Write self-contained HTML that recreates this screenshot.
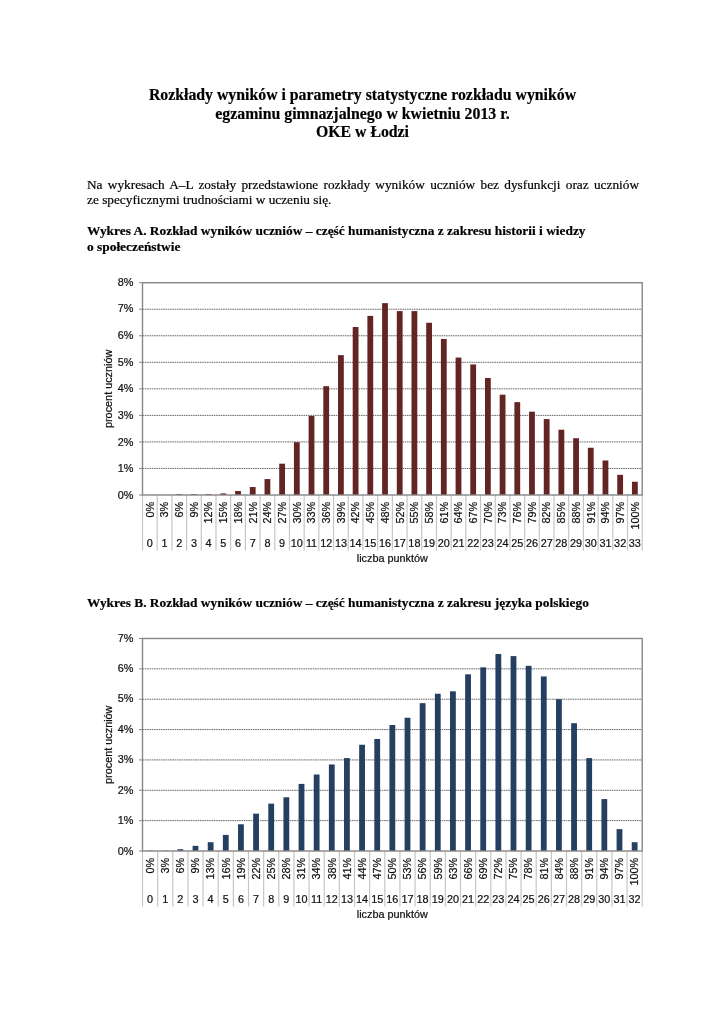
<!DOCTYPE html>
<html lang="pl"><head><meta charset="utf-8"><title>Rozkłady wyników</title>
<style>
html,body{margin:0;padding:0;background:#fff;}
body{width:725px;height:1024px;position:relative;overflow:hidden;}
.t{position:absolute;will-change:transform;-webkit-text-stroke:0.2px #000;font-family:"Liberation Serif",serif;color:#000;white-space:nowrap;}
.title{left:0;width:725px;text-align:center;font-weight:bold;font-size:15.8px;line-height:18px;}
.p{font-size:13.3px;line-height:14px;left:86.6px;}
.j{width:552px;text-align:justify;text-align-last:justify;}
.h{font-weight:bold;font-size:13.4px;line-height:14px;left:86.6px;}
svg{position:absolute;left:0;top:0;will-change:transform;}
.c{font-family:"Liberation Sans",sans-serif;font-size:10.85px;fill:#111;stroke:#111;stroke-width:0.22px;}
</style></head><body>
<div class="t title" style="top:86px">Rozkłady wyników i parametry statystyczne rozkładu wyników</div>
<div class="t title" style="top:104.5px">egzaminu gimnazjalnego w kwietniu 2013 r.</div>
<div class="t title" style="top:123px">OKE w Łodzi</div>
<div class="t p j" style="top:178px">Na wykresach A–L zostały przedstawione rozkłady wyników uczniów bez dysfunkcji oraz uczniów</div>
<div class="t p" style="top:193.4px">ze specyficznymi trudnościami w uczeniu się.</div>
<div class="t h" style="top:224px">Wykres A. Rozkład wyników uczniów – część humanistyczna z zakresu historii i wiedzy</div>
<div class="t h" style="top:239.6px">o społeczeństwie</div>
<div class="t h" style="top:596px">Wykres B. Rozkład wyników uczniów – część humanistyczna z zakresu języka polskiego</div>
<svg width="725" height="1024" viewBox="0 0 725 1024">
<line x1="142.5" y1="468.46" x2="642.2" y2="468.46" stroke="#6a6a6a" stroke-width="1" stroke-dasharray="1.6 0.7"/>
<line x1="142.5" y1="441.93" x2="642.2" y2="441.93" stroke="#6a6a6a" stroke-width="1" stroke-dasharray="1.6 0.7"/>
<line x1="142.5" y1="415.39" x2="642.2" y2="415.39" stroke="#6a6a6a" stroke-width="1" stroke-dasharray="1.6 0.7"/>
<line x1="142.5" y1="388.85" x2="642.2" y2="388.85" stroke="#6a6a6a" stroke-width="1" stroke-dasharray="1.6 0.7"/>
<line x1="142.5" y1="362.31" x2="642.2" y2="362.31" stroke="#6a6a6a" stroke-width="1" stroke-dasharray="1.6 0.7"/>
<line x1="142.5" y1="335.77" x2="642.2" y2="335.77" stroke="#6a6a6a" stroke-width="1" stroke-dasharray="1.6 0.7"/>
<line x1="142.5" y1="309.24" x2="642.2" y2="309.24" stroke="#6a6a6a" stroke-width="1" stroke-dasharray="1.6 0.7"/>
<rect x="176.34" y="494.20" width="5.8" height="0.80" fill="#632523"/>
<rect x="191.04" y="494.20" width="5.8" height="0.80" fill="#632523"/>
<rect x="205.74" y="494.20" width="5.8" height="0.80" fill="#632523"/>
<rect x="220.43" y="493.41" width="5.8" height="1.59" fill="#632523"/>
<rect x="235.13" y="491.02" width="5.8" height="3.98" fill="#632523"/>
<rect x="249.83" y="487.04" width="5.8" height="7.96" fill="#632523"/>
<rect x="264.53" y="479.08" width="5.8" height="15.92" fill="#632523"/>
<rect x="279.22" y="463.69" width="5.8" height="31.31" fill="#632523"/>
<rect x="293.92" y="442.19" width="5.8" height="52.81" fill="#632523"/>
<rect x="308.62" y="415.92" width="5.8" height="79.08" fill="#632523"/>
<rect x="323.31" y="386.20" width="5.8" height="108.80" fill="#632523"/>
<rect x="338.01" y="355.15" width="5.8" height="139.85" fill="#632523"/>
<rect x="352.71" y="327.02" width="5.8" height="167.98" fill="#632523"/>
<rect x="367.40" y="315.87" width="5.8" height="179.13" fill="#632523"/>
<rect x="382.10" y="303.13" width="5.8" height="191.87" fill="#632523"/>
<rect x="396.80" y="311.10" width="5.8" height="183.90" fill="#632523"/>
<rect x="411.50" y="311.10" width="5.8" height="183.90" fill="#632523"/>
<rect x="426.19" y="322.77" width="5.8" height="172.23" fill="#632523"/>
<rect x="440.89" y="338.96" width="5.8" height="156.04" fill="#632523"/>
<rect x="455.59" y="357.54" width="5.8" height="137.46" fill="#632523"/>
<rect x="470.28" y="364.44" width="5.8" height="130.56" fill="#632523"/>
<rect x="484.98" y="377.97" width="5.8" height="117.03" fill="#632523"/>
<rect x="499.68" y="394.69" width="5.8" height="100.31" fill="#632523"/>
<rect x="514.38" y="402.12" width="5.8" height="92.88" fill="#632523"/>
<rect x="529.07" y="411.67" width="5.8" height="83.33" fill="#632523"/>
<rect x="543.77" y="419.10" width="5.8" height="75.90" fill="#632523"/>
<rect x="558.47" y="429.72" width="5.8" height="65.28" fill="#632523"/>
<rect x="573.16" y="438.21" width="5.8" height="56.79" fill="#632523"/>
<rect x="587.86" y="447.76" width="5.8" height="47.24" fill="#632523"/>
<rect x="602.56" y="460.50" width="5.8" height="34.50" fill="#632523"/>
<rect x="617.25" y="474.83" width="5.8" height="20.17" fill="#632523"/>
<rect x="631.95" y="481.73" width="5.8" height="13.27" fill="#632523"/>
<line x1="142.50" y1="495.0" x2="142.50" y2="550.5" stroke="#c6c6c6" stroke-width="1.2"/>
<line x1="157.20" y1="495.0" x2="157.20" y2="550.5" stroke="#c6c6c6" stroke-width="1.2"/>
<line x1="171.89" y1="495.0" x2="171.89" y2="550.5" stroke="#c6c6c6" stroke-width="1.2"/>
<line x1="186.59" y1="495.0" x2="186.59" y2="550.5" stroke="#c6c6c6" stroke-width="1.2"/>
<line x1="201.29" y1="495.0" x2="201.29" y2="550.5" stroke="#c6c6c6" stroke-width="1.2"/>
<line x1="215.99" y1="495.0" x2="215.99" y2="550.5" stroke="#c6c6c6" stroke-width="1.2"/>
<line x1="230.68" y1="495.0" x2="230.68" y2="550.5" stroke="#c6c6c6" stroke-width="1.2"/>
<line x1="245.38" y1="495.0" x2="245.38" y2="550.5" stroke="#c6c6c6" stroke-width="1.2"/>
<line x1="260.08" y1="495.0" x2="260.08" y2="550.5" stroke="#c6c6c6" stroke-width="1.2"/>
<line x1="274.77" y1="495.0" x2="274.77" y2="550.5" stroke="#c6c6c6" stroke-width="1.2"/>
<line x1="289.47" y1="495.0" x2="289.47" y2="550.5" stroke="#c6c6c6" stroke-width="1.2"/>
<line x1="304.17" y1="495.0" x2="304.17" y2="550.5" stroke="#c6c6c6" stroke-width="1.2"/>
<line x1="318.86" y1="495.0" x2="318.86" y2="550.5" stroke="#c6c6c6" stroke-width="1.2"/>
<line x1="333.56" y1="495.0" x2="333.56" y2="550.5" stroke="#c6c6c6" stroke-width="1.2"/>
<line x1="348.26" y1="495.0" x2="348.26" y2="550.5" stroke="#c6c6c6" stroke-width="1.2"/>
<line x1="362.96" y1="495.0" x2="362.96" y2="550.5" stroke="#c6c6c6" stroke-width="1.2"/>
<line x1="377.65" y1="495.0" x2="377.65" y2="550.5" stroke="#c6c6c6" stroke-width="1.2"/>
<line x1="392.35" y1="495.0" x2="392.35" y2="550.5" stroke="#c6c6c6" stroke-width="1.2"/>
<line x1="407.05" y1="495.0" x2="407.05" y2="550.5" stroke="#c6c6c6" stroke-width="1.2"/>
<line x1="421.74" y1="495.0" x2="421.74" y2="550.5" stroke="#c6c6c6" stroke-width="1.2"/>
<line x1="436.44" y1="495.0" x2="436.44" y2="550.5" stroke="#c6c6c6" stroke-width="1.2"/>
<line x1="451.14" y1="495.0" x2="451.14" y2="550.5" stroke="#c6c6c6" stroke-width="1.2"/>
<line x1="465.84" y1="495.0" x2="465.84" y2="550.5" stroke="#c6c6c6" stroke-width="1.2"/>
<line x1="480.53" y1="495.0" x2="480.53" y2="550.5" stroke="#c6c6c6" stroke-width="1.2"/>
<line x1="495.23" y1="495.0" x2="495.23" y2="550.5" stroke="#c6c6c6" stroke-width="1.2"/>
<line x1="509.93" y1="495.0" x2="509.93" y2="550.5" stroke="#c6c6c6" stroke-width="1.2"/>
<line x1="524.62" y1="495.0" x2="524.62" y2="550.5" stroke="#c6c6c6" stroke-width="1.2"/>
<line x1="539.32" y1="495.0" x2="539.32" y2="550.5" stroke="#c6c6c6" stroke-width="1.2"/>
<line x1="554.02" y1="495.0" x2="554.02" y2="550.5" stroke="#c6c6c6" stroke-width="1.2"/>
<line x1="568.71" y1="495.0" x2="568.71" y2="550.5" stroke="#c6c6c6" stroke-width="1.2"/>
<line x1="583.41" y1="495.0" x2="583.41" y2="550.5" stroke="#c6c6c6" stroke-width="1.2"/>
<line x1="598.11" y1="495.0" x2="598.11" y2="550.5" stroke="#c6c6c6" stroke-width="1.2"/>
<line x1="612.81" y1="495.0" x2="612.81" y2="550.5" stroke="#c6c6c6" stroke-width="1.2"/>
<line x1="627.50" y1="495.0" x2="627.50" y2="550.5" stroke="#c6c6c6" stroke-width="1.2"/>
<line x1="642.20" y1="495.0" x2="642.20" y2="550.5" stroke="#c6c6c6" stroke-width="1.2"/>
<rect x="142.5" y="282.7" width="499.70" height="212.30" fill="none" stroke="#878787" stroke-width="1.4"/>
<line x1="139" y1="495.00" x2="142.5" y2="495.00" stroke="#878787" stroke-width="1"/>
<text x="133.5" y="498.88" text-anchor="end" class="c">0%</text>
<line x1="139" y1="468.46" x2="142.5" y2="468.46" stroke="#878787" stroke-width="1"/>
<text x="133.5" y="472.23" text-anchor="end" class="c">1%</text>
<line x1="139" y1="441.93" x2="142.5" y2="441.93" stroke="#878787" stroke-width="1"/>
<text x="133.5" y="445.59" text-anchor="end" class="c">2%</text>
<line x1="139" y1="415.39" x2="142.5" y2="415.39" stroke="#878787" stroke-width="1"/>
<text x="133.5" y="418.94" text-anchor="end" class="c">3%</text>
<line x1="139" y1="388.85" x2="142.5" y2="388.85" stroke="#878787" stroke-width="1"/>
<text x="133.5" y="392.29" text-anchor="end" class="c">4%</text>
<line x1="139" y1="362.31" x2="142.5" y2="362.31" stroke="#878787" stroke-width="1"/>
<text x="133.5" y="365.64" text-anchor="end" class="c">5%</text>
<line x1="139" y1="335.77" x2="142.5" y2="335.77" stroke="#878787" stroke-width="1"/>
<text x="133.5" y="339.00" text-anchor="end" class="c">6%</text>
<line x1="139" y1="309.24" x2="142.5" y2="309.24" stroke="#878787" stroke-width="1"/>
<text x="133.5" y="312.35" text-anchor="end" class="c">7%</text>
<line x1="139" y1="282.70" x2="142.5" y2="282.70" stroke="#878787" stroke-width="1"/>
<text x="133.5" y="285.70" text-anchor="end" class="c">8%</text>
<text transform="translate(153.65,501.80) rotate(-90)" text-anchor="end" class="c">0%</text>
<text transform="translate(168.35,501.80) rotate(-90)" text-anchor="end" class="c">3%</text>
<text transform="translate(183.04,501.80) rotate(-90)" text-anchor="end" class="c">6%</text>
<text transform="translate(197.74,501.80) rotate(-90)" text-anchor="end" class="c">9%</text>
<text transform="translate(212.44,501.80) rotate(-90)" text-anchor="end" class="c">12%</text>
<text transform="translate(227.13,501.80) rotate(-90)" text-anchor="end" class="c">15%</text>
<text transform="translate(241.83,501.80) rotate(-90)" text-anchor="end" class="c">18%</text>
<text transform="translate(256.53,501.80) rotate(-90)" text-anchor="end" class="c">21%</text>
<text transform="translate(271.23,501.80) rotate(-90)" text-anchor="end" class="c">24%</text>
<text transform="translate(285.92,501.80) rotate(-90)" text-anchor="end" class="c">27%</text>
<text transform="translate(300.62,501.80) rotate(-90)" text-anchor="end" class="c">30%</text>
<text transform="translate(315.32,501.80) rotate(-90)" text-anchor="end" class="c">33%</text>
<text transform="translate(330.01,501.80) rotate(-90)" text-anchor="end" class="c">36%</text>
<text transform="translate(344.71,501.80) rotate(-90)" text-anchor="end" class="c">39%</text>
<text transform="translate(359.41,501.80) rotate(-90)" text-anchor="end" class="c">42%</text>
<text transform="translate(374.10,501.80) rotate(-90)" text-anchor="end" class="c">45%</text>
<text transform="translate(388.80,501.80) rotate(-90)" text-anchor="end" class="c">48%</text>
<text transform="translate(403.50,501.80) rotate(-90)" text-anchor="end" class="c">52%</text>
<text transform="translate(418.20,501.80) rotate(-90)" text-anchor="end" class="c">55%</text>
<text transform="translate(432.89,501.80) rotate(-90)" text-anchor="end" class="c">58%</text>
<text transform="translate(447.59,501.80) rotate(-90)" text-anchor="end" class="c">61%</text>
<text transform="translate(462.29,501.80) rotate(-90)" text-anchor="end" class="c">64%</text>
<text transform="translate(476.98,501.80) rotate(-90)" text-anchor="end" class="c">67%</text>
<text transform="translate(491.68,501.80) rotate(-90)" text-anchor="end" class="c">70%</text>
<text transform="translate(506.38,501.80) rotate(-90)" text-anchor="end" class="c">73%</text>
<text transform="translate(521.08,501.80) rotate(-90)" text-anchor="end" class="c">76%</text>
<text transform="translate(535.77,501.80) rotate(-90)" text-anchor="end" class="c">79%</text>
<text transform="translate(550.47,501.80) rotate(-90)" text-anchor="end" class="c">82%</text>
<text transform="translate(565.17,501.80) rotate(-90)" text-anchor="end" class="c">85%</text>
<text transform="translate(579.86,501.80) rotate(-90)" text-anchor="end" class="c">88%</text>
<text transform="translate(594.56,501.80) rotate(-90)" text-anchor="end" class="c">91%</text>
<text transform="translate(609.26,501.80) rotate(-90)" text-anchor="end" class="c">94%</text>
<text transform="translate(623.95,501.80) rotate(-90)" text-anchor="end" class="c">97%</text>
<text transform="translate(638.65,501.80) rotate(-90)" text-anchor="end" class="c">100%</text>
<text x="149.85" y="547.40" text-anchor="middle" class="c">0</text>
<text x="164.55" y="547.40" text-anchor="middle" class="c">1</text>
<text x="179.24" y="547.40" text-anchor="middle" class="c">2</text>
<text x="193.94" y="547.40" text-anchor="middle" class="c">3</text>
<text x="208.64" y="547.40" text-anchor="middle" class="c">4</text>
<text x="223.33" y="547.40" text-anchor="middle" class="c">5</text>
<text x="238.03" y="547.40" text-anchor="middle" class="c">6</text>
<text x="252.73" y="547.40" text-anchor="middle" class="c">7</text>
<text x="267.43" y="547.40" text-anchor="middle" class="c">8</text>
<text x="282.12" y="547.40" text-anchor="middle" class="c">9</text>
<text x="296.82" y="547.40" text-anchor="middle" class="c">10</text>
<text x="311.52" y="547.40" text-anchor="middle" class="c">11</text>
<text x="326.21" y="547.40" text-anchor="middle" class="c">12</text>
<text x="340.91" y="547.40" text-anchor="middle" class="c">13</text>
<text x="355.61" y="547.40" text-anchor="middle" class="c">14</text>
<text x="370.30" y="547.40" text-anchor="middle" class="c">15</text>
<text x="385.00" y="547.40" text-anchor="middle" class="c">16</text>
<text x="399.70" y="547.40" text-anchor="middle" class="c">17</text>
<text x="414.40" y="547.40" text-anchor="middle" class="c">18</text>
<text x="429.09" y="547.40" text-anchor="middle" class="c">19</text>
<text x="443.79" y="547.40" text-anchor="middle" class="c">20</text>
<text x="458.49" y="547.40" text-anchor="middle" class="c">21</text>
<text x="473.18" y="547.40" text-anchor="middle" class="c">22</text>
<text x="487.88" y="547.40" text-anchor="middle" class="c">23</text>
<text x="502.58" y="547.40" text-anchor="middle" class="c">24</text>
<text x="517.28" y="547.40" text-anchor="middle" class="c">25</text>
<text x="531.97" y="547.40" text-anchor="middle" class="c">26</text>
<text x="546.67" y="547.40" text-anchor="middle" class="c">27</text>
<text x="561.37" y="547.40" text-anchor="middle" class="c">28</text>
<text x="576.06" y="547.40" text-anchor="middle" class="c">29</text>
<text x="590.76" y="547.40" text-anchor="middle" class="c">30</text>
<text x="605.46" y="547.40" text-anchor="middle" class="c">31</text>
<text x="620.15" y="547.40" text-anchor="middle" class="c">32</text>
<text x="634.85" y="547.40" text-anchor="middle" class="c">33</text>
<text x="392.35" y="562.00" text-anchor="middle" class="c">liczba punktów</text>
<text transform="translate(111.7,388.85) rotate(-90)" text-anchor="middle" class="c">procent uczniów</text>
<line x1="142.5" y1="820.64" x2="642.2" y2="820.64" stroke="#6a6a6a" stroke-width="1" stroke-dasharray="1.6 0.7"/>
<line x1="142.5" y1="790.29" x2="642.2" y2="790.29" stroke="#6a6a6a" stroke-width="1" stroke-dasharray="1.6 0.7"/>
<line x1="142.5" y1="759.93" x2="642.2" y2="759.93" stroke="#6a6a6a" stroke-width="1" stroke-dasharray="1.6 0.7"/>
<line x1="142.5" y1="729.57" x2="642.2" y2="729.57" stroke="#6a6a6a" stroke-width="1" stroke-dasharray="1.6 0.7"/>
<line x1="142.5" y1="699.21" x2="642.2" y2="699.21" stroke="#6a6a6a" stroke-width="1" stroke-dasharray="1.6 0.7"/>
<line x1="142.5" y1="668.86" x2="642.2" y2="668.86" stroke="#6a6a6a" stroke-width="1" stroke-dasharray="1.6 0.7"/>
<rect x="147.17" y="850.70" width="5.8" height="0.30" fill="#243F60"/>
<rect x="162.31" y="850.70" width="5.8" height="0.30" fill="#243F60"/>
<rect x="177.46" y="849.18" width="5.8" height="1.82" fill="#243F60"/>
<rect x="192.60" y="845.84" width="5.8" height="5.16" fill="#243F60"/>
<rect x="207.74" y="842.20" width="5.8" height="8.80" fill="#243F60"/>
<rect x="222.88" y="834.91" width="5.8" height="16.09" fill="#243F60"/>
<rect x="238.03" y="824.29" width="5.8" height="26.71" fill="#243F60"/>
<rect x="253.17" y="813.66" width="5.8" height="37.34" fill="#243F60"/>
<rect x="268.31" y="803.64" width="5.8" height="47.36" fill="#243F60"/>
<rect x="283.45" y="797.27" width="5.8" height="53.73" fill="#243F60"/>
<rect x="298.60" y="783.91" width="5.8" height="67.09" fill="#243F60"/>
<rect x="313.74" y="774.50" width="5.8" height="76.50" fill="#243F60"/>
<rect x="328.88" y="764.48" width="5.8" height="86.52" fill="#243F60"/>
<rect x="344.02" y="758.11" width="5.8" height="92.89" fill="#243F60"/>
<rect x="359.17" y="744.75" width="5.8" height="106.25" fill="#243F60"/>
<rect x="374.31" y="738.98" width="5.8" height="112.02" fill="#243F60"/>
<rect x="389.45" y="725.02" width="5.8" height="125.98" fill="#243F60"/>
<rect x="404.59" y="717.73" width="5.8" height="133.27" fill="#243F60"/>
<rect x="419.73" y="703.16" width="5.8" height="147.84" fill="#243F60"/>
<rect x="434.88" y="693.75" width="5.8" height="157.25" fill="#243F60"/>
<rect x="450.02" y="691.32" width="5.8" height="159.68" fill="#243F60"/>
<rect x="465.16" y="674.32" width="5.8" height="176.68" fill="#243F60"/>
<rect x="480.30" y="667.34" width="5.8" height="183.66" fill="#243F60"/>
<rect x="495.45" y="653.98" width="5.8" height="197.02" fill="#243F60"/>
<rect x="510.59" y="656.11" width="5.8" height="194.89" fill="#243F60"/>
<rect x="525.73" y="665.82" width="5.8" height="185.18" fill="#243F60"/>
<rect x="540.87" y="676.45" width="5.8" height="174.55" fill="#243F60"/>
<rect x="556.02" y="699.21" width="5.8" height="151.79" fill="#243F60"/>
<rect x="571.16" y="723.20" width="5.8" height="127.80" fill="#243F60"/>
<rect x="586.30" y="758.11" width="5.8" height="92.89" fill="#243F60"/>
<rect x="601.44" y="799.09" width="5.8" height="51.91" fill="#243F60"/>
<rect x="616.59" y="829.14" width="5.8" height="21.86" fill="#243F60"/>
<rect x="631.73" y="842.20" width="5.8" height="8.80" fill="#243F60"/>
<line x1="142.50" y1="851.0" x2="142.50" y2="906.5" stroke="#c6c6c6" stroke-width="1.2"/>
<line x1="157.64" y1="851.0" x2="157.64" y2="906.5" stroke="#c6c6c6" stroke-width="1.2"/>
<line x1="172.78" y1="851.0" x2="172.78" y2="906.5" stroke="#c6c6c6" stroke-width="1.2"/>
<line x1="187.93" y1="851.0" x2="187.93" y2="906.5" stroke="#c6c6c6" stroke-width="1.2"/>
<line x1="203.07" y1="851.0" x2="203.07" y2="906.5" stroke="#c6c6c6" stroke-width="1.2"/>
<line x1="218.21" y1="851.0" x2="218.21" y2="906.5" stroke="#c6c6c6" stroke-width="1.2"/>
<line x1="233.35" y1="851.0" x2="233.35" y2="906.5" stroke="#c6c6c6" stroke-width="1.2"/>
<line x1="248.50" y1="851.0" x2="248.50" y2="906.5" stroke="#c6c6c6" stroke-width="1.2"/>
<line x1="263.64" y1="851.0" x2="263.64" y2="906.5" stroke="#c6c6c6" stroke-width="1.2"/>
<line x1="278.78" y1="851.0" x2="278.78" y2="906.5" stroke="#c6c6c6" stroke-width="1.2"/>
<line x1="293.92" y1="851.0" x2="293.92" y2="906.5" stroke="#c6c6c6" stroke-width="1.2"/>
<line x1="309.07" y1="851.0" x2="309.07" y2="906.5" stroke="#c6c6c6" stroke-width="1.2"/>
<line x1="324.21" y1="851.0" x2="324.21" y2="906.5" stroke="#c6c6c6" stroke-width="1.2"/>
<line x1="339.35" y1="851.0" x2="339.35" y2="906.5" stroke="#c6c6c6" stroke-width="1.2"/>
<line x1="354.49" y1="851.0" x2="354.49" y2="906.5" stroke="#c6c6c6" stroke-width="1.2"/>
<line x1="369.64" y1="851.0" x2="369.64" y2="906.5" stroke="#c6c6c6" stroke-width="1.2"/>
<line x1="384.78" y1="851.0" x2="384.78" y2="906.5" stroke="#c6c6c6" stroke-width="1.2"/>
<line x1="399.92" y1="851.0" x2="399.92" y2="906.5" stroke="#c6c6c6" stroke-width="1.2"/>
<line x1="415.06" y1="851.0" x2="415.06" y2="906.5" stroke="#c6c6c6" stroke-width="1.2"/>
<line x1="430.21" y1="851.0" x2="430.21" y2="906.5" stroke="#c6c6c6" stroke-width="1.2"/>
<line x1="445.35" y1="851.0" x2="445.35" y2="906.5" stroke="#c6c6c6" stroke-width="1.2"/>
<line x1="460.49" y1="851.0" x2="460.49" y2="906.5" stroke="#c6c6c6" stroke-width="1.2"/>
<line x1="475.63" y1="851.0" x2="475.63" y2="906.5" stroke="#c6c6c6" stroke-width="1.2"/>
<line x1="490.78" y1="851.0" x2="490.78" y2="906.5" stroke="#c6c6c6" stroke-width="1.2"/>
<line x1="505.92" y1="851.0" x2="505.92" y2="906.5" stroke="#c6c6c6" stroke-width="1.2"/>
<line x1="521.06" y1="851.0" x2="521.06" y2="906.5" stroke="#c6c6c6" stroke-width="1.2"/>
<line x1="536.20" y1="851.0" x2="536.20" y2="906.5" stroke="#c6c6c6" stroke-width="1.2"/>
<line x1="551.35" y1="851.0" x2="551.35" y2="906.5" stroke="#c6c6c6" stroke-width="1.2"/>
<line x1="566.49" y1="851.0" x2="566.49" y2="906.5" stroke="#c6c6c6" stroke-width="1.2"/>
<line x1="581.63" y1="851.0" x2="581.63" y2="906.5" stroke="#c6c6c6" stroke-width="1.2"/>
<line x1="596.77" y1="851.0" x2="596.77" y2="906.5" stroke="#c6c6c6" stroke-width="1.2"/>
<line x1="611.92" y1="851.0" x2="611.92" y2="906.5" stroke="#c6c6c6" stroke-width="1.2"/>
<line x1="627.06" y1="851.0" x2="627.06" y2="906.5" stroke="#c6c6c6" stroke-width="1.2"/>
<line x1="642.20" y1="851.0" x2="642.20" y2="906.5" stroke="#c6c6c6" stroke-width="1.2"/>
<rect x="142.5" y="638.5" width="499.70" height="212.50" fill="none" stroke="#878787" stroke-width="1.4"/>
<line x1="139" y1="851.00" x2="142.5" y2="851.00" stroke="#878787" stroke-width="1"/>
<text x="133.5" y="854.77" text-anchor="end" class="c">0%</text>
<line x1="139" y1="820.64" x2="142.5" y2="820.64" stroke="#878787" stroke-width="1"/>
<text x="133.5" y="824.30" text-anchor="end" class="c">1%</text>
<line x1="139" y1="790.29" x2="142.5" y2="790.29" stroke="#878787" stroke-width="1"/>
<text x="133.5" y="793.84" text-anchor="end" class="c">2%</text>
<line x1="139" y1="759.93" x2="142.5" y2="759.93" stroke="#878787" stroke-width="1"/>
<text x="133.5" y="763.37" text-anchor="end" class="c">3%</text>
<line x1="139" y1="729.57" x2="142.5" y2="729.57" stroke="#878787" stroke-width="1"/>
<text x="133.5" y="732.90" text-anchor="end" class="c">4%</text>
<line x1="139" y1="699.21" x2="142.5" y2="699.21" stroke="#878787" stroke-width="1"/>
<text x="133.5" y="702.43" text-anchor="end" class="c">5%</text>
<line x1="139" y1="668.86" x2="142.5" y2="668.86" stroke="#878787" stroke-width="1"/>
<text x="133.5" y="671.97" text-anchor="end" class="c">6%</text>
<line x1="139" y1="638.50" x2="142.5" y2="638.50" stroke="#878787" stroke-width="1"/>
<text x="133.5" y="641.50" text-anchor="end" class="c">7%</text>
<text transform="translate(153.87,857.80) rotate(-90)" text-anchor="end" class="c">0%</text>
<text transform="translate(169.01,857.80) rotate(-90)" text-anchor="end" class="c">3%</text>
<text transform="translate(184.16,857.80) rotate(-90)" text-anchor="end" class="c">6%</text>
<text transform="translate(199.30,857.80) rotate(-90)" text-anchor="end" class="c">9%</text>
<text transform="translate(214.44,857.80) rotate(-90)" text-anchor="end" class="c">13%</text>
<text transform="translate(229.58,857.80) rotate(-90)" text-anchor="end" class="c">16%</text>
<text transform="translate(244.73,857.80) rotate(-90)" text-anchor="end" class="c">19%</text>
<text transform="translate(259.87,857.80) rotate(-90)" text-anchor="end" class="c">22%</text>
<text transform="translate(275.01,857.80) rotate(-90)" text-anchor="end" class="c">25%</text>
<text transform="translate(290.15,857.80) rotate(-90)" text-anchor="end" class="c">28%</text>
<text transform="translate(305.30,857.80) rotate(-90)" text-anchor="end" class="c">31%</text>
<text transform="translate(320.44,857.80) rotate(-90)" text-anchor="end" class="c">34%</text>
<text transform="translate(335.58,857.80) rotate(-90)" text-anchor="end" class="c">38%</text>
<text transform="translate(350.72,857.80) rotate(-90)" text-anchor="end" class="c">41%</text>
<text transform="translate(365.87,857.80) rotate(-90)" text-anchor="end" class="c">44%</text>
<text transform="translate(381.01,857.80) rotate(-90)" text-anchor="end" class="c">47%</text>
<text transform="translate(396.15,857.80) rotate(-90)" text-anchor="end" class="c">50%</text>
<text transform="translate(411.29,857.80) rotate(-90)" text-anchor="end" class="c">53%</text>
<text transform="translate(426.43,857.80) rotate(-90)" text-anchor="end" class="c">56%</text>
<text transform="translate(441.58,857.80) rotate(-90)" text-anchor="end" class="c">59%</text>
<text transform="translate(456.72,857.80) rotate(-90)" text-anchor="end" class="c">63%</text>
<text transform="translate(471.86,857.80) rotate(-90)" text-anchor="end" class="c">66%</text>
<text transform="translate(487.00,857.80) rotate(-90)" text-anchor="end" class="c">69%</text>
<text transform="translate(502.15,857.80) rotate(-90)" text-anchor="end" class="c">72%</text>
<text transform="translate(517.29,857.80) rotate(-90)" text-anchor="end" class="c">75%</text>
<text transform="translate(532.43,857.80) rotate(-90)" text-anchor="end" class="c">78%</text>
<text transform="translate(547.57,857.80) rotate(-90)" text-anchor="end" class="c">81%</text>
<text transform="translate(562.72,857.80) rotate(-90)" text-anchor="end" class="c">84%</text>
<text transform="translate(577.86,857.80) rotate(-90)" text-anchor="end" class="c">88%</text>
<text transform="translate(593.00,857.80) rotate(-90)" text-anchor="end" class="c">91%</text>
<text transform="translate(608.14,857.80) rotate(-90)" text-anchor="end" class="c">94%</text>
<text transform="translate(623.29,857.80) rotate(-90)" text-anchor="end" class="c">97%</text>
<text transform="translate(638.43,857.80) rotate(-90)" text-anchor="end" class="c">100%</text>
<text x="150.07" y="903.40" text-anchor="middle" class="c">0</text>
<text x="165.21" y="903.40" text-anchor="middle" class="c">1</text>
<text x="180.36" y="903.40" text-anchor="middle" class="c">2</text>
<text x="195.50" y="903.40" text-anchor="middle" class="c">3</text>
<text x="210.64" y="903.40" text-anchor="middle" class="c">4</text>
<text x="225.78" y="903.40" text-anchor="middle" class="c">5</text>
<text x="240.93" y="903.40" text-anchor="middle" class="c">6</text>
<text x="256.07" y="903.40" text-anchor="middle" class="c">7</text>
<text x="271.21" y="903.40" text-anchor="middle" class="c">8</text>
<text x="286.35" y="903.40" text-anchor="middle" class="c">9</text>
<text x="301.50" y="903.40" text-anchor="middle" class="c">10</text>
<text x="316.64" y="903.40" text-anchor="middle" class="c">11</text>
<text x="331.78" y="903.40" text-anchor="middle" class="c">12</text>
<text x="346.92" y="903.40" text-anchor="middle" class="c">13</text>
<text x="362.07" y="903.40" text-anchor="middle" class="c">14</text>
<text x="377.21" y="903.40" text-anchor="middle" class="c">15</text>
<text x="392.35" y="903.40" text-anchor="middle" class="c">16</text>
<text x="407.49" y="903.40" text-anchor="middle" class="c">17</text>
<text x="422.63" y="903.40" text-anchor="middle" class="c">18</text>
<text x="437.78" y="903.40" text-anchor="middle" class="c">19</text>
<text x="452.92" y="903.40" text-anchor="middle" class="c">20</text>
<text x="468.06" y="903.40" text-anchor="middle" class="c">21</text>
<text x="483.20" y="903.40" text-anchor="middle" class="c">22</text>
<text x="498.35" y="903.40" text-anchor="middle" class="c">23</text>
<text x="513.49" y="903.40" text-anchor="middle" class="c">24</text>
<text x="528.63" y="903.40" text-anchor="middle" class="c">25</text>
<text x="543.77" y="903.40" text-anchor="middle" class="c">26</text>
<text x="558.92" y="903.40" text-anchor="middle" class="c">27</text>
<text x="574.06" y="903.40" text-anchor="middle" class="c">28</text>
<text x="589.20" y="903.40" text-anchor="middle" class="c">29</text>
<text x="604.34" y="903.40" text-anchor="middle" class="c">30</text>
<text x="619.49" y="903.40" text-anchor="middle" class="c">31</text>
<text x="634.63" y="903.40" text-anchor="middle" class="c">32</text>
<text x="392.35" y="918.00" text-anchor="middle" class="c">liczba punktów</text>
<text transform="translate(111.7,744.75) rotate(-90)" text-anchor="middle" class="c">procent uczniów</text>
</svg>
</body></html>
